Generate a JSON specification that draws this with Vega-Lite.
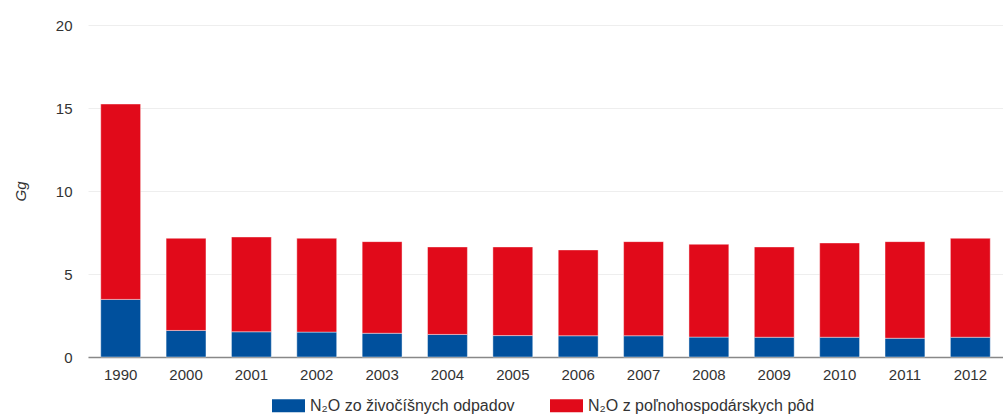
{
  "$schema": "https://vega.github.io/schema/vega-lite/v6.json",
  "width": 915,
  "height": 332,
  "autosize": {"type": "none"},
  "padding": {"left": 88, "top": 25, "right": 0, "bottom": 58},
  "background": "white",
  "config": {
    "font": "Liberation Sans",
    "view": {"stroke": null}
  },
  "data": {
    "values": [
      {"rok": "1990", "zdroj": "N₂O zo živočíšnych odpadov", "hodnota": 3.47},
      {"rok": "1990", "zdroj": "N₂O z poľnohospodárskych pôd", "hodnota": 11.77},
      {"rok": "2000", "zdroj": "N₂O zo živočíšnych odpadov", "hodnota": 1.60},
      {"rok": "2000", "zdroj": "N₂O z poľnohospodárskych pôd", "hodnota": 5.55},
      {"rok": "2001", "zdroj": "N₂O zo živočíšnych odpadov", "hodnota": 1.52},
      {"rok": "2001", "zdroj": "N₂O z poľnohospodárskych pôd", "hodnota": 5.71},
      {"rok": "2002", "zdroj": "N₂O zo živočíšnych odpadov", "hodnota": 1.50},
      {"rok": "2002", "zdroj": "N₂O z poľnohospodárskych pôd", "hodnota": 5.65},
      {"rok": "2003", "zdroj": "N₂O zo živočíšnych odpadov", "hodnota": 1.43},
      {"rok": "2003", "zdroj": "N₂O z poľnohospodárskych pôd", "hodnota": 5.52},
      {"rok": "2004", "zdroj": "N₂O zo živočíšnych odpadov", "hodnota": 1.36},
      {"rok": "2004", "zdroj": "N₂O z poľnohospodárskych pôd", "hodnota": 5.27},
      {"rok": "2005", "zdroj": "N₂O zo živočíšnych odpadov", "hodnota": 1.29},
      {"rok": "2005", "zdroj": "N₂O z poľnohospodárskych pôd", "hodnota": 5.34},
      {"rok": "2006", "zdroj": "N₂O zo živočíšnych odpadov", "hodnota": 1.28},
      {"rok": "2006", "zdroj": "N₂O z poľnohospodárskych pôd", "hodnota": 5.17},
      {"rok": "2007", "zdroj": "N₂O zo živočíšnych odpadov", "hodnota": 1.28},
      {"rok": "2007", "zdroj": "N₂O z poľnohospodárskych pôd", "hodnota": 5.67},
      {"rok": "2008", "zdroj": "N₂O zo živočíšnych odpadov", "hodnota": 1.20},
      {"rok": "2008", "zdroj": "N₂O z poľnohospodárskych pôd", "hodnota": 5.59},
      {"rok": "2009", "zdroj": "N₂O zo živočíšnych odpadov", "hodnota": 1.19},
      {"rok": "2009", "zdroj": "N₂O z poľnohospodárskych pôd", "hodnota": 5.44},
      {"rok": "2010", "zdroj": "N₂O zo živočíšnych odpadov", "hodnota": 1.19},
      {"rok": "2010", "zdroj": "N₂O z poľnohospodárskych pôd", "hodnota": 5.68},
      {"rok": "2011", "zdroj": "N₂O zo živočíšnych odpadov", "hodnota": 1.13},
      {"rok": "2011", "zdroj": "N₂O z poľnohospodárskych pôd", "hodnota": 5.82},
      {"rok": "2012", "zdroj": "N₂O zo živočíšnych odpadov", "hodnota": 1.19},
      {"rok": "2012", "zdroj": "N₂O z poľnohospodárskych pôd", "hodnota": 5.96}
    ]
  },
  "mark": {"type": "bar", "stroke": "#ffffff", "strokeWidth": 0.6, "strokeOpacity": 0.7},
  "encoding": {
    "x": {
      "field": "rok",
      "type": "nominal",
      "scale": {"paddingInner": 0.39, "paddingOuter": 0.195},
      "axis": {
        "title": null,
        "labelAngle": 0,
        "ticks": false,
        "labelPadding": 10,
        "labelFontSize": 15,
        "labelColor": "#333333",
        "domainColor": "#888888",
        "domainWidth": 1.5,
        "grid": false
      }
    },
    "y": {
      "field": "hodnota",
      "type": "quantitative",
      "stack": "zero",
      "scale": {"domain": [0, 20], "nice": false},
      "axis": {
        "title": "Gg",
        "titleFont": "Liberation Sans",
        "titleFontStyle": "italic",
        "titleFontWeight": "normal",
        "titleFontSize": 15,
        "titleColor": "#333333",
        "titleX": -68,
        "titleY": 166,
        "titleAngle": -90,
        "titleAlign": "center",
        "titleBaseline": "middle",
        "values": [0, 5, 10, 15, 20],
        "ticks": false,
        "domain": false,
        "labelPadding": 16,
        "labelFontSize": 15,
        "labelColor": "#333333",
        "gridColor": "#eeeeee",
        "gridWidth": 1
      }
    },
    "color": {
      "field": "zdroj",
      "type": "nominal",
      "sort": ["N₂O zo živočíšnych odpadov", "N₂O z poľnohospodárskych pôd"],
      "scale": {
        "domain": ["N₂O zo živočíšnych odpadov", "N₂O z poľnohospodárskych pôd"],
        "range": ["#00509d", "#e10a1a"]
      },
      "legend": {
        "title": null,
        "orient": "none",
        "legendX": 184,
        "legendY": 364,
        "direction": "horizontal",
        "symbolType": "M-1,-0.394H1V0.394H-1Z",
        "symbolSize": 1089,
        "symbolStrokeWidth": 0,
        "symbolOpacity": 1,
        "labelFontSize": 16,
        "labelColor": "#333333",
        "labelOffset": 5,
        "columnPadding": 35,
        "labelLimit": 400
      }
    }
  }
}
